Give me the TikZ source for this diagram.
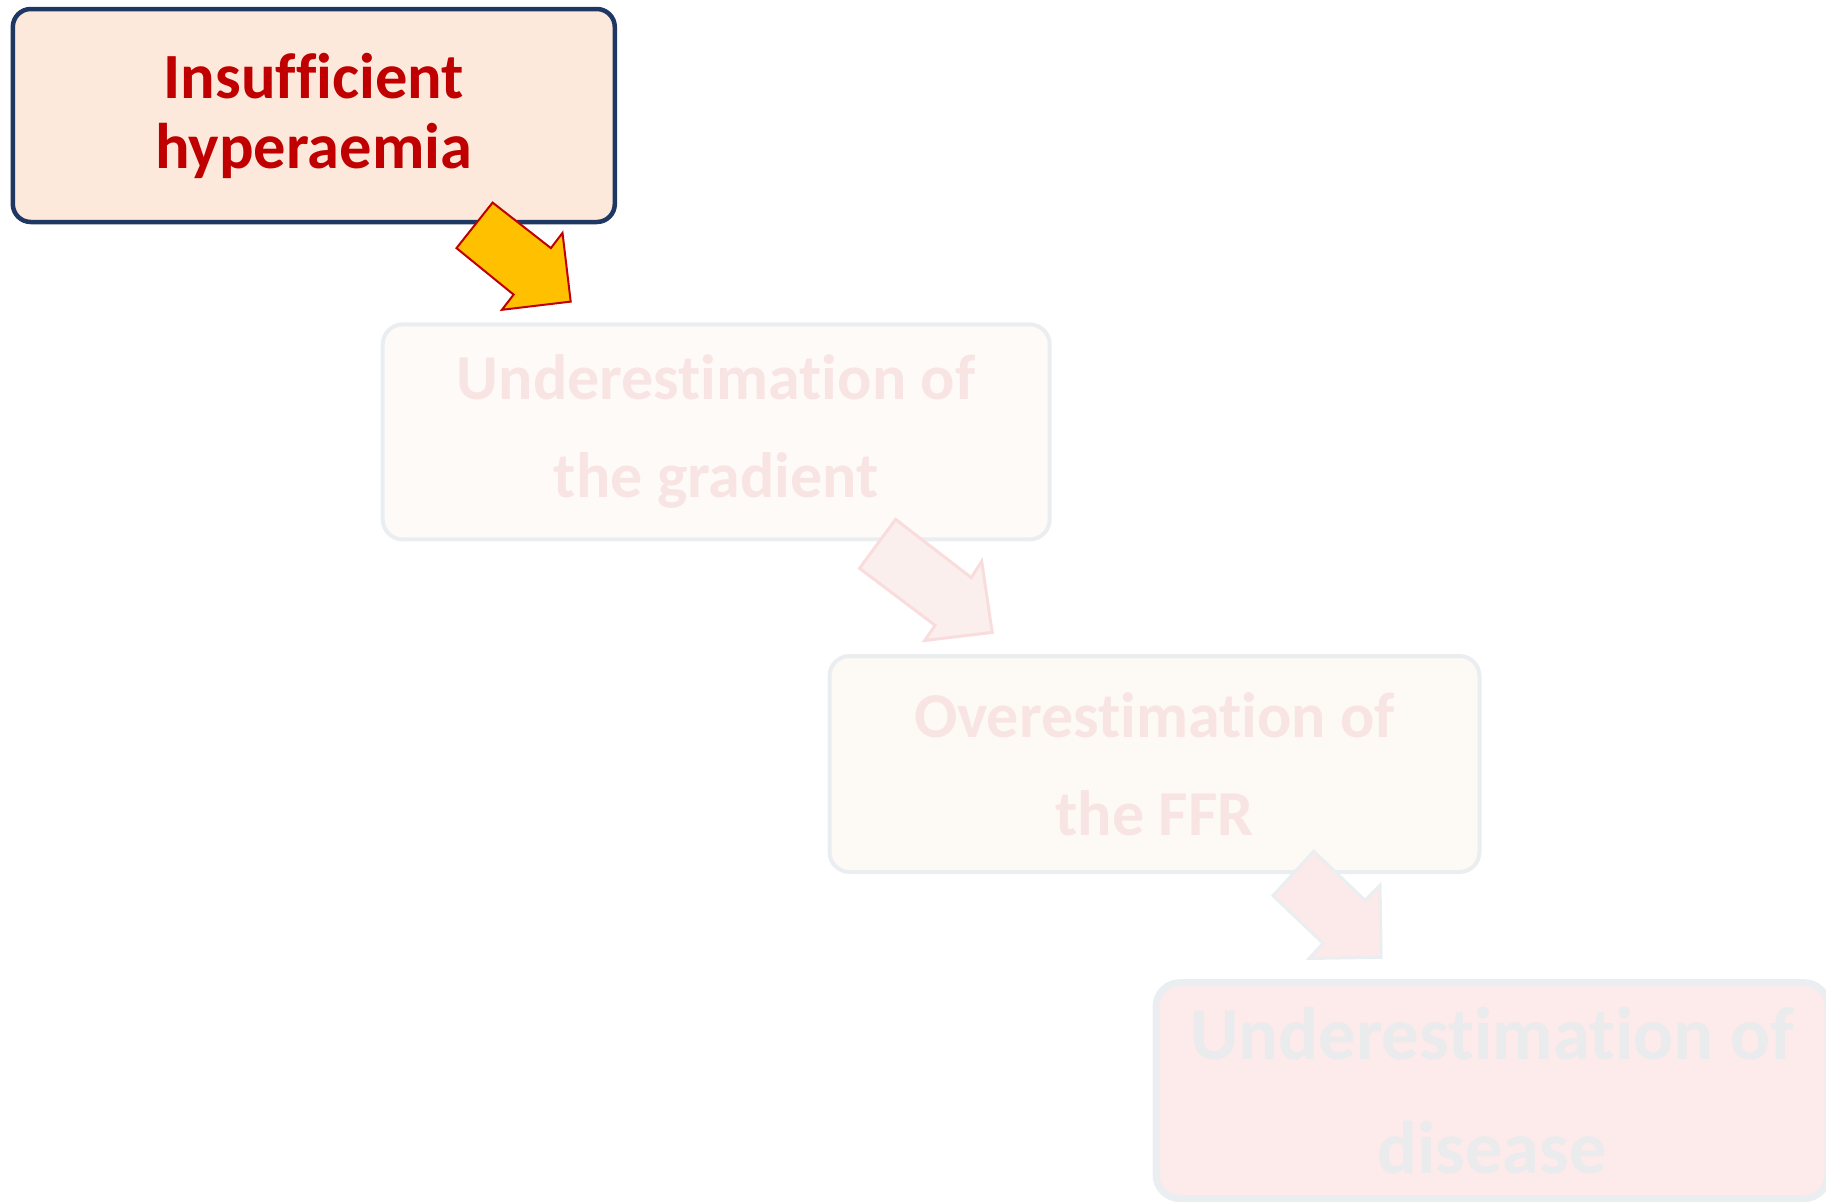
\documentclass[tikz,border=0pt]{standalone}
\usepackage{fontspec}
\setmainfont[RawFeature=-liga]{Carlito}
\usepackage{tikz}

\definecolor{navyline}{HTML}{1F3763}
\definecolor{peachfill}{HTML}{FCE9DB}
\definecolor{darkred}{HTML}{C00000}
\definecolor{ambient}{HTML}{FFC000}
\definecolor{palefill}{HTML}{FEFAF7}
\definecolor{creamfill}{HTML}{FDF9F4}
\definecolor{pinkfill}{HTML}{FDEAEB}
\definecolor{greyline}{HTML}{EBEEF1}
\definecolor{paletext}{HTML}{F8E5E3}
\definecolor{greytext}{HTML}{EAEBED}

\tikzset{
  stepbox/.style={draw=greyline, line width=4pt, rounded corners=20pt,
    align=center, inner sep=0pt, font=\fontsize{64}{98}\selectfont\bfseries},
  blockarrow/.style={line width=3pt, line join=miter},
}

\begin{document}
\begin{tikzpicture}[x=1pt, y=-1pt]
\useasboundingbox (0,0) rectangle (1826,1203);

% First box - highlighted
\node[stepbox, line width=4.5pt, draw=navyline, fill=peachfill, text=darkred, rounded corners=18pt,
  minimum width=602pt, minimum height=213pt,
  font=\fontsize{64.5}{70}\selectfont\bfseries] (hyper) at (313.8,115.5)
  {Insufficient\\hyperaemia};

% Second and third box - faded
\node[stepbox, fill=palefill, text=paletext, minimum width=667pt, minimum height=215pt]
  (gradient) at (716.2,431.9) {Underestimation of\\the gradient};
\node[stepbox, fill=creamfill, text=paletext, minimum width=650pt, minimum height=216pt]
  (ffr) at (1154.5,764) {Overestimation of\\the FFR};

% Last box - partly off the page
\node[stepbox, line width=7pt, fill=pinkfill, text=greytext, rounded corners=24pt,
  minimum width=672pt, minimum height=216pt,
  font=\fontsize{74.5}{114}\selectfont\bfseries] (disease) at (1492,1090.6)
  {Underestimation of\\disease};

% Block arrows between the boxes
\draw[blockarrow, line width=2pt, draw=darkred, fill=ambient]
  (492.6,202.6) -- (550.9,248.1) -- (562.5,232.9) -- (570.7,301.6)
  -- (501.9,309.8) -- (513.6,294.6) -- (456.5,248.1) -- cycle;
\draw[blockarrow, draw=paletext!80!pink, fill=paletext!60!white]
  (895.6,519.4) -- (971.3,577.6) -- (981.7,561.3) -- (992.2,632.4)
  -- (924.7,640.5) -- (935.2,625.4) -- (859.5,568.3) -- cycle;
\draw[blockarrow, draw=greyline, fill=pinkfill!80!paletext]
  (1313.7,851.3) -- (1364.9,900.2) -- (1380,885.1) -- (1381.2,957.3)
  -- (1309,958.5) -- (1323,943.3) -- (1272.9,895.6) -- cycle;

\end{tikzpicture}
\end{document}
